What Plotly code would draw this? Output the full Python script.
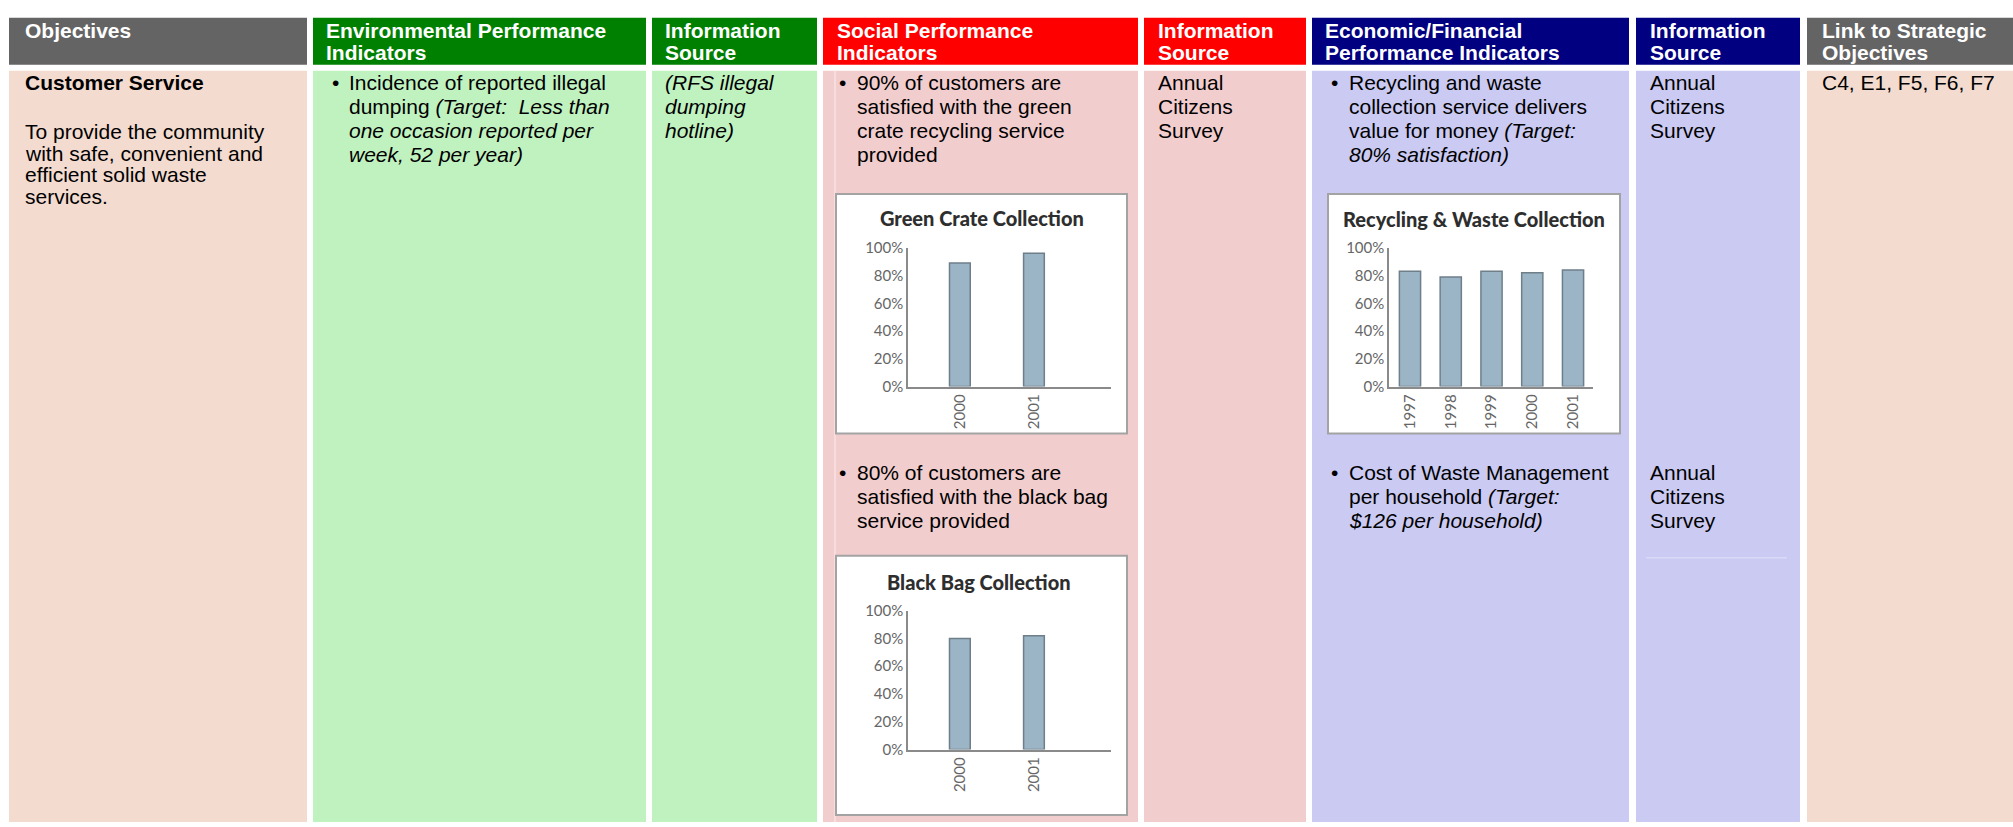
import plotly.graph_objects as go

W, H = 2013, 827

# ---------------- data ----------------
green_years = ["2000", "2001"]
green_vals = [89, 96]
black_years = ["2000", "2001"]
black_vals = [80, 82]
recyc_years = ["1997", "1998", "1999", "2000", "2001"]
recyc_vals = [83, 79, 83, 82, 84]
pct_ticks = [0, 20, 40, 60, 80, 100]
pct_labels = ["0%", "20%", "40%", "60%", "80%", "100%"]

headers = [
    ["Objectives"],
    ["Environmental Performance", "Indicators"],
    ["Information", "Source"],
    ["Social Performance", "Indicators"],
    ["Information", "Source"],
    ["Economic/Financial", "Performance Indicators"],
    ["Information", "Source"],
    ["Link to Strategic", "Objectives"],
]

# ---------------- helpers ----------------
def px(x):
    return x / W

def py(y):
    return 1 - y / H

FONT = "Liberation Sans, Arial, sans-serif"
CFONT = "Lato, Open Sans, sans-serif"
shapes = []
annotations = []

def rect(x0, y0, x1, y1, fill, line=None, lw=0):
    shapes.append(dict(type="rect", xref="paper", yref="paper",
                       x0=px(x0), x1=px(x1), y0=py(y1), y1=py(y0),
                       fillcolor=fill, layer="below",
                       line=dict(color=line or fill, width=lw)))

def vline(x, y0, y1, color, lw=1):
    shapes.append(dict(type="line", xref="paper", yref="paper",
                       x0=px(x), x1=px(x), y0=py(y0), y1=py(y1), layer="below",
                       line=dict(color=color, width=lw)))

def hline(x0, x1, y, color, lw=1):
    shapes.append(dict(type="line", xref="paper", yref="paper",
                       x0=px(x0), x1=px(x1), y0=py(y), y1=py(y), layer="below",
                       line=dict(color=color, width=lw)))

def txt(x, y, s, size=21, color="black", family=FONT, anchor="left"):
    annotations.append(dict(x=px(x), y=py(y), xref="paper", yref="paper", text=s,
                            showarrow=False, xanchor=anchor, yanchor="middle",
                            borderpad=0, font=dict(family=family, size=size, color=color)))

# ---------------- table structure ----------------
PEACH = "#F3DBCF"
LGREEN = "#C0F2C0"
PINK = "#F2CDCE"
LAV = "#CACAF2"
cols = [
    (9, 307, "#646464", PEACH, 24),
    (313, 646, "#008000", LGREEN, 325),
    (652, 817, "#008000", LGREEN, 664),
    (823, 1138, "#FF0000", PINK, 836),
    (1144, 1306, "#FF0000", PINK, 1157),
    (1312, 1629, "#000080", LAV, 1324),
    (1636, 1800, "#000080", LAV, 1649),
    (1807, 2013, "#646464", PEACH, 1821),
]
HY0, HY1, BY0, BY1 = 8, 56, 62, 830
for (x0, x1, hc, bc, tx), lines in zip(cols, headers):
    rect(x0, HY0, x1, HY1, hc)
    rect(x0, BY0, x1, BY1, bc)
    for i, ln in enumerate(lines):
        txt(tx, 20.5 + 23.2 * i, "<b>" + ln + "</b>", color="white")

vline(835, BY0, BY1, "#F8E2E2", 1.5)
hline(1646, 1787, 560, "#DADAF8", 1.5)

# ---------------- body text ----------------
R = [74.5, 99, 123.5, 148]
R2 = [472.5, 497, 521.5]
BUL = "\u2022"

txt(24, R[0], "<b>Customer Service</b>")
for y, s in zip([124.5, 146.5, 168.5, 190.5],
                ["To provide the community", "with safe, convenient and",
                 "efficient solid waste", "services."]):
    txt(24, y, s)

txt(331, R[0], BUL)
for y, s in zip(R, ["Incidence of reported illegal",
                    "dumping <i>(Target:\u00a0 Less than</i>",
                    "<i>one occasion reported per</i>",
                    "<i>week, 52 per year)</i>"]):
    txt(348, y, s)

for y, s in zip(R, ["<i>(RFS illegal</i>", "<i>dumping</i>", "<i>hotline)</i>"]):
    txt(664, y, s)

txt(838, R[0], BUL)
for y, s in zip(R, ["90% of customers are", "satisfied with the green",
                    "crate recycling service", "provided"]):
    txt(856, y, s)
txt(838, R2[0], BUL)
for y, s in zip(R2, ["80% of customers are", "satisfied with the black bag",
                     "service provided"]):
    txt(856, y, s)

for y, s in zip(R, ["Annual", "Citizens", "Survey"]):
    txt(1157, y, s)

txt(1330, R[0], BUL)
for y, s in zip(R, ["Recycling and waste", "collection service delivers",
                    "value for money <i>(Target:</i>", "<i>80% satisfaction)</i>"]):
    txt(1348, y, s)
txt(1330, R2[0], BUL)
for y, s in zip(R2, ["Cost of Waste Management", "per household <i>(Target:</i>",
                     "<i>$126 per household)</i>"]):
    txt(1348, y, s)

for y, s in zip(R, ["Annual", "Citizens", "Survey"]):
    txt(1649, y, s)
for y, s in zip(R2, ["Annual", "Citizens", "Survey"]):
    txt(1649, y, s)

txt(1821, R[0], "C4, E1, F5, F6, F7")

# ---------------- mini charts ----------------
FRAME = "#A3A3A3"
rect(836, 188, 1127, 433, "white", FRAME, 2)
rect(836, 558, 1127, 823, "white", FRAME, 2)
rect(1328, 188, 1620, 433, "white", FRAME, 2)
TFONT = "Lato Black, Lato, Open Sans, sans-serif"
txt(982, 213, "<b>Green Crate Collection</b>", size=20, color="#2E2E2E", family=TFONT, anchor="center")
txt(979, 585, "<b>Black Bag Collection</b>", size=20, color="#2E2E2E", family=TFONT, anchor="center")
txt(1474, 214, "<b>Recycling &amp; Waste Collection</b>", size=20, color="#2E2E2E", family=TFONT, anchor="center")

BAR = "#9BB4C6"
BAR_EDGE = "#6F7F8A"
fig = go.Figure()
charts = [
    (green_years, green_vals, (908, 1111), (243, 385), [-0.70, 2.04], 0.28),
    (black_years, black_vals, (908, 1111), (614, 756), [-0.70, 2.04], 0.28),
    (recyc_years, recyc_vals, (1389, 1593), (243, 385), [-0.515, 4.49], 0.52),
]
layout_axes = {}
for i, (cats, vals, (ax0, ax1), (ay0, ay1), xr, bw) in enumerate(charts, start=1):
    sx = "" if i == 1 else str(i)
    fig.add_trace(go.Bar(x=list(range(len(cats))), y=vals, width=bw,
                         xaxis="x" + sx, yaxis="y" + sx, hoverinfo="skip",
                         marker=dict(color=BAR, line=dict(color=BAR_EDGE, width=1.5))))
    layout_axes["xaxis" + sx] = dict(
        domain=[px(ax0), px(ax1)], range=xr, anchor="y" + sx,
        tickmode="array", tickvals=list(range(len(cats))), ticktext=cats, tickangle=-90,
        showline=True, linecolor="#8A8A8A", linewidth=1.5, showgrid=False,
        zeroline=False, ticks="", fixedrange=True,
        tickfont=dict(family=CFONT, size=15, color="#666666"))
    layout_axes["yaxis" + sx] = dict(
        domain=[py(ay1), py(ay0)], range=[0, 100], anchor="x" + sx,
        tickmode="array", tickvals=pct_ticks, ticktext=pct_labels,
        showline=True, linecolor="#8A8A8A",
        linewidth=1.5, showgrid=False, zeroline=False, ticks="", fixedrange=True,
        tickfont=dict(family=CFONT, size=15, color="#666666"))

fig.update_layout(
    width=W, height=H, margin=dict(l=0, r=0, t=0, b=0),
    paper_bgcolor="white", plot_bgcolor="rgba(0,0,0,0)",
    showlegend=False, shapes=shapes, annotations=annotations,
    **layout_axes)

fig.write_html(
    "out.html", config={"displayModeBar": False},
    post_script=("document.body.style.margin='0';document.body.style.overflow='hidden';"
                 "var d=document.getElementById('{plot_id}');"
                 "d.style.position='fixed';d.style.top='0px';d.style.left='0px';"))
